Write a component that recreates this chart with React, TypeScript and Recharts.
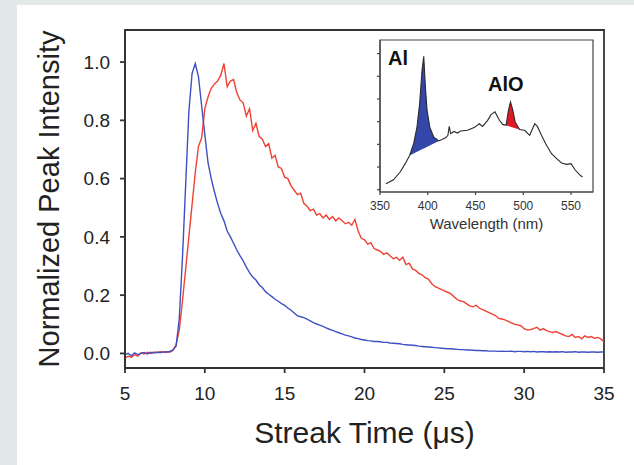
import { LineChart, ComposedChart, Line, Area, XAxis, YAxis, ReferenceArea } from "recharts";

// streak time axis, µs
const TIME_US = [
  5, 5.2, 5.4, 5.6, 5.8, 6, 6.2, 6.4, 6.6, 6.8, 7, 7.2, 7.4, 7.6, 7.8,
  8, 8.2, 8.4, 8.6, 8.8, 9, 9.2, 9.4, 9.6, 9.8, 10, 10.2, 10.4, 10.6, 10.8,
  11, 11.2, 11.4, 11.6, 11.8, 12, 12.2, 12.4, 12.6, 12.8, 13, 13.2, 13.4, 13.6, 13.8,
  14, 14.2, 14.4, 14.6, 14.8, 15, 15.2, 15.4, 15.6, 15.8, 16, 16.2, 16.4, 16.6, 16.8,
  17, 17.2, 17.4, 17.6, 17.8, 18, 18.2, 18.4, 18.6, 18.8, 19, 19.2, 19.4, 19.6, 19.8,
  20, 20.2, 20.4, 20.6, 20.8, 21, 21.2, 21.4, 21.6, 21.8, 22, 22.2, 22.4, 22.6, 22.8,
  23, 23.2, 23.4, 23.6, 23.8, 24, 24.2, 24.4, 24.6, 24.8, 25, 25.2, 25.4, 25.6, 25.8,
  26, 26.2, 26.4, 26.6, 26.8, 27, 27.2, 27.4, 27.6, 27.8, 28, 28.2, 28.4, 28.6, 28.8,
  29, 29.2, 29.4, 29.6, 29.8, 30, 30.2, 30.4, 30.6, 30.8, 31, 31.2, 31.4, 31.6, 31.8,
  32, 32.2, 32.4, 32.6, 32.8, 33, 33.2, 33.4, 33.6, 33.8, 34, 34.2, 34.4, 34.6, 34.8,
  35,
];

// Al emission (blue)
const AL_INTENSITY = [
  -0.005, 0.0, -0.008, 0.002, -0.004, 0.0, 0.003, -0.002, 0.004, 0.001, 0.005, 0.002, 0.006, 0.004, 0.007,
  0.012, 0.025, 0.12, 0.33, 0.58, 0.83, 0.96, 0.995, 0.95, 0.85, 0.75, 0.655, 0.6, 0.555, 0.515,
  0.48, 0.455, 0.42, 0.4, 0.378, 0.355, 0.336, 0.318, 0.296, 0.277, 0.262, 0.252, 0.236, 0.226, 0.212,
  0.203, 0.195, 0.186, 0.179, 0.171, 0.165, 0.156, 0.148, 0.139, 0.129, 0.126, 0.123, 0.118, 0.112, 0.106,
  0.101, 0.097, 0.093, 0.088, 0.083, 0.079, 0.075, 0.071, 0.067, 0.063, 0.06, 0.057, 0.053, 0.051, 0.048,
  0.046, 0.044, 0.043, 0.041, 0.041, 0.04, 0.038, 0.038, 0.036, 0.035, 0.034, 0.033, 0.031, 0.03, 0.029,
  0.028, 0.027, 0.025, 0.024, 0.023, 0.022, 0.021, 0.02, 0.019, 0.018, 0.017, 0.016, 0.016, 0.015, 0.014,
  0.013, 0.013, 0.012, 0.012, 0.011, 0.01, 0.01, 0.009, 0.009, 0.008, 0.008, 0.008, 0.007, 0.008, 0.007,
  0.007, 0.008, 0.006, 0.007, 0.007, 0.006, 0.007, 0.006, 0.007, 0.005, 0.006, 0.006, 0.005, 0.006, 0.005,
  0.006, 0.005, 0.006, 0.004, 0.005, 0.005, 0.006, 0.004, 0.005, 0.005, 0.004, 0.005, 0.005, 0.004, 0.005,
  0.005,
];

// AlO emission (red)
const ALO_INTENSITY = [
  -0.015, -0.01, -0.013, -0.004, -0.009, 0.002, -0.002, 0.004, 0.0, 0.005, 0.002, 0.007, 0.003, 0.006, 0.004,
  0.01, 0.03, 0.08, 0.18, 0.29, 0.4, 0.51, 0.62, 0.71, 0.74, 0.84, 0.88, 0.91, 0.925, 0.935,
  0.955, 0.995, 0.915, 0.935, 0.94, 0.895, 0.87, 0.86, 0.815, 0.84, 0.765, 0.79, 0.745, 0.735, 0.71,
  0.72, 0.67, 0.68, 0.64, 0.635, 0.605, 0.6, 0.575, 0.56, 0.545, 0.55, 0.515, 0.505, 0.49, 0.495,
  0.475, 0.48, 0.465, 0.475, 0.46, 0.47, 0.455, 0.465, 0.455, 0.445, 0.45, 0.44, 0.46, 0.42, 0.395,
  0.39, 0.375, 0.38, 0.36, 0.355, 0.35, 0.34, 0.345, 0.335, 0.325, 0.33, 0.32, 0.33, 0.305, 0.31,
  0.29, 0.285, 0.275, 0.27, 0.26, 0.255, 0.24, 0.23, 0.225, 0.22, 0.215, 0.21, 0.205, 0.195, 0.185,
  0.18, 0.178, 0.17, 0.163, 0.16, 0.165, 0.155, 0.15, 0.145, 0.14, 0.135, 0.13, 0.12, 0.118, 0.115,
  0.11, 0.105, 0.1, 0.098, 0.095, 0.085, 0.08, 0.082, 0.085, 0.09, 0.08, 0.085, 0.078, 0.075, 0.072,
  0.075, 0.07, 0.065, 0.06, 0.058, 0.065, 0.055, 0.058, 0.05, 0.06, 0.055, 0.058, 0.052, 0.055, 0.05,
  0.04,
];

const TIME_TICKS = [5, 10, 15, 20, 25, 30, 35];
const INTENSITY_TICKS = [0, 0.2, 0.4, 0.6, 0.8, 1.0];

// inset emission spectrum
const WAVELENGTH_NM = [
  356.3, 364.1, 371.1, 376.4, 381.0, 385.2, 388.7, 391.5, 394.0, 395.8, 397.5, 399.3, 402.1, 406.3, 411.6,
  418.7, 421.1, 422.5, 423.9, 427.5, 431.0, 434.5, 441.5, 448.6, 453.9, 457.4, 462.7, 466.2, 470.4, 475.0,
  478.5, 482.0, 484.5, 486.6, 489.1, 491.5, 496.1, 501.4, 506.7, 512.0, 514.8, 519.0, 524.3, 529.6, 534.9,
  540.1, 545.4, 550.0, 554.2, 558.5, 562.0,
];
const SPECTRUM = [
  0.26, 0.44, 0.78, 1.15, 1.51, 2.03, 2.76, 3.79, 5.26, 5.88, 4.53, 3.5, 2.76, 2.32, 2.15,
  2.29, 2.4, 2.79, 2.47, 2.57, 2.5, 2.59, 2.62, 2.74, 2.91, 2.79, 3.06, 3.31, 3.43, 3.06,
  2.88, 2.84, 3.5, 3.87, 3.5, 2.99, 2.65, 2.62, 2.4, 2.91, 2.79, 2.4, 1.96, 1.59, 1.37,
  1.18, 1.12, 1.15, 0.88, 0.68, 0.56,
];
const WAVELENGTH_TICKS = [350, 400, 450, 500, 550];
const SPECTRUM_TICKS = [0, 1, 2, 3, 4, 5, 6];
const AL_BAND = [381.0, 411.6];
const ALO_BAND = [482.0, 496.1];

const FONT = '"Liberation Sans", Arial, Helvetica, sans-serif';
const BLUE = "#3f50c4";
const RED = "#ee4232";
const AXIS = "#333";

const TIME_DOMAIN = [5, 35];
const INTENSITY_DOMAIN = [-0.05, 1.11];
const WL_DOMAIN = [350, 573];
const SPEC_DOMAIN = [-0.1, 6.6];

const decayData = TIME_US.map((t, i) => ({ t, al: AL_INTENSITY[i], alo: ALO_INTENSITY[i] }));

// shaded band: between the spectrum and the straight line joining the band's two ends
function bandRange(band: number[], i: number) {
  const wl = WAVELENGTH_NM[i];
  if (wl < band[0] || wl > band[1]) return null;
  const a = SPECTRUM[WAVELENGTH_NM.indexOf(band[0])];
  const b = SPECTRUM[WAVELENGTH_NM.indexOf(band[1])];
  const base = a + ((b - a) * (wl - band[0])) / (band[1] - band[0]);
  return [base, SPECTRUM[i]];
}

const spectrumData = WAVELENGTH_NM.map((wl, i) => ({
  wl,
  v: SPECTRUM[i],
  alBand: bandRange(AL_BAND, i),
  aloBand: bandRange(ALO_BAND, i),
}));

function Inset() {
  const tick = { fill: "#333", fontSize: 12, fontFamily: FONT };
  return (
    <div style={{ position: "absolute", left: 340, top: 30 }}>
      <ComposedChart width={270} height={215} data={spectrumData} margin={{ top: 10, right: 17, bottom: 0, left: 0 }}>
        <XAxis
          dataKey="wl"
          type="number"
          domain={WL_DOMAIN}
          ticks={WAVELENGTH_TICKS}
          allowDataOverflow
          height={53}
          tickSize={3}
          tickMargin={6}
          stroke="#444"
          strokeWidth={1.2}
          tick={tick}
          label={{ value: "Wavelength (nm)", position: "insideBottom", offset: 16, fontSize: 15, fill: "#333", fontFamily: FONT }}
        />
        <YAxis
          type="number"
          domain={SPEC_DOMAIN}
          ticks={SPECTRUM_TICKS}
          allowDataOverflow
          width={40}
          tickSize={3}
          stroke="#444"
          strokeWidth={1.2}
          tickFormatter={() => ""}
        />
        <ReferenceArea x1={WL_DOMAIN[0]} x2={WL_DOMAIN[1]} y1={SPEC_DOMAIN[0]} y2={SPEC_DOMAIN[1]} fill="none" stroke="#444" strokeWidth={1.2} />
        <Area dataKey="alBand" type="linear" fill="#3446a8" fillOpacity={1} stroke="none" isAnimationActive={false} />
        <Area dataKey="aloBand" type="linear" fill="#e01a24" fillOpacity={1} stroke="none" isAnimationActive={false} />
        <Line dataKey="v" type="linear" stroke="#2a2a2a" strokeWidth={1.1} dot={false} isAnimationActive={false} />
      </ComposedChart>
    </div>
  );
}

export default function App() {
  const tick = { fill: "#222", fontSize: 19, fontFamily: FONT };
  const peakLabel = { position: "absolute" as const, fontFamily: FONT, fontWeight: 700, fontSize: 20, lineHeight: 1, color: "#111" };
  return (
    <div style={{ position: "absolute", left: 0, top: 0, width: 634, height: 465, background: "#e3e8e8", overflow: "hidden" }}>
      <div style={{ position: "absolute", left: 17, top: 5, right: 0, bottom: 0, background: "#fff" }} />
      <div style={{ position: "absolute", left: 0, top: 0 }}>
        <LineChart width={634} height={465} data={decayData} margin={{ top: 30, right: 30, bottom: 0, left: 0 }}>
          <XAxis
            dataKey="t"
            type="number"
            domain={TIME_DOMAIN}
            ticks={TIME_TICKS}
            allowDataOverflow
            height={97}
            tickSize={5}
            tickMargin={14}
            stroke={AXIS}
            strokeWidth={1.8}
            tick={tick}
            label={{ value: "Streak Time (μs)", position: "insideBottom", offset: 22, fontSize: 30, fill: "#222", fontFamily: FONT }}
          />
          <YAxis
            type="number"
            domain={INTENSITY_DOMAIN}
            ticks={INTENSITY_TICKS}
            allowDataOverflow
            width={125}
            tickSize={5}
            tickMargin={10}
            stroke={AXIS}
            strokeWidth={1.8}
            tick={tick}
            tickFormatter={(v: number) => v.toFixed(1)}
            label={{
              value: "Normalized Peak Intensity",
              angle: -90,
              position: "insideLeft",
              offset: 49,
              fontSize: 29,
              fill: "#222",
              fontFamily: FONT,
              style: { textAnchor: "middle" },
            }}
          />
          <ReferenceArea
            x1={TIME_DOMAIN[0]}
            x2={TIME_DOMAIN[1]}
            y1={INTENSITY_DOMAIN[0]}
            y2={INTENSITY_DOMAIN[1]}
            fill="none"
            stroke={AXIS}
            strokeWidth={1.8}
          />
          <Line dataKey="alo" type="linear" stroke={RED} strokeWidth={1.4} dot={false} isAnimationActive={false} />
          <Line dataKey="al" type="linear" stroke={BLUE} strokeWidth={1.4} dot={false} isAnimationActive={false} />
        </LineChart>
      </div>
      <Inset />
      <div style={{ ...peakLabel, left: 388, top: 48 }}>Al</div>
      <div style={{ ...peakLabel, left: 488, top: 74 }}>AlO</div>
    </div>
  );
}
